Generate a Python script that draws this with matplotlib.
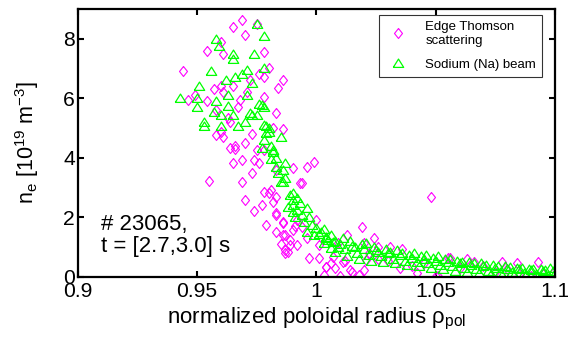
import matplotlib
matplotlib.use("Agg")
import matplotlib.pyplot as plt

plt.rcParams['font.family'] = ['Liberation Sans', 'DejaVu Sans']
plt.rcParams['mathtext.fontset'] = 'custom'
plt.rcParams['mathtext.rm'] = 'Liberation Sans'
plt.rcParams['mathtext.it'] = 'Liberation Sans'

# Edge Thomson scattering (rho_pol, n_e in 1e19 m^-3)
ts_rho = [0.969, 0.975, 0.965, 0.970, 0.978, 0.954, 0.960, 0.961, 0.944, 0.986,
          0.984, 0.980, 0.978, 0.960, 0.965, 0.961, 0.949, 0.946, 0.954, 0.978,
          0.958, 0.983, 0.968, 0.964, 0.960, 0.973, 0.986, 0.982, 0.966, 0.970,
          0.961, 0.972, 0.976, 0.971, 0.963, 0.967, 0.957, 0.958, 0.964,
          0.955, 0.970, 0.969, 0.974, 0.966, 0.965, 0.969, 0.973, 0.978, 0.983,
          0.986, 0.987, 0.989, 0.987, 0.982, 0.976, 0.983, 0.978, 0.981, 0.974,
          0.975, 0.980, 0.983, 0.983, 0.983, 0.986, 0.987, 0.988, 0.986, 0.990,
          0.989, 0.992, 0.992, 0.994, 0.993, 0.997, 1.001, 1.004, 1.006, 1.001,
          0.996, 0.999, 0.996, 0.994, 0.990, 1.000, 1.019, 1.024, 1.013, 1.031,
          1.036, 1.020, 1.022, 1.009, 1.026, 1.048, 1.004, 1.008, 1.015, 1.014,
          1.020, 1.007, 1.011, 1.021, 1.042, 1.051, 1.055, 1.056, 1.063, 1.066,
          1.078, 1.084, 1.093, 1.099, 1.003, 1.010, 1.018, 1.050, 1.090, 1.030,
          1.035, 1.040, 1.045, 1.060, 1.070, 1.075, 1.080, 1.085, 1.095, 1.026,
          1.012, 0.991, 0.985, 0.979, 0.977]
ts_ne = [8.64, 8.50, 8.40, 8.13, 7.56, 7.60, 7.90, 7.50, 6.90, 6.60,
         6.35, 7.00, 6.70, 6.40, 6.40, 6.20, 6.10, 5.95, 5.90, 6.05,
         5.60, 5.50, 5.95, 5.20, 4.85, 4.80, 4.95, 5.00, 4.40, 4.50,
         4.70, 6.60, 6.80, 6.20, 5.35, 5.70, 6.30, 4.77, 4.33,
         3.23, 2.59, 3.20, 2.20, 4.30, 3.83, 3.93, 3.50, 2.86, 2.15,
         1.80, 1.41, 1.07, 0.80, 2.50, 3.83, 3.60, 4.27, 2.92, 3.93,
         4.27, 2.82, 2.69, 2.08, 1.51, 1.41, 0.91, 0.84, 1.85, 1.58,
         1.24, 1.08, 1.92, 1.68, 3.16, 0.64, 0.64, 0.34, 0.47, 1.08,
         1.31, 3.87, 3.70, 3.16, 3.66, 1.92, 1.68, 1.31, 1.41, 1.01,
         0.94, 1.14, 0.80, 1.14, 1.01, 2.69, 0.34, 0.30, 0.17, 0.24,
         0.24, 0.67, 0.50, 0.57, 0.13, 0.02, 0.64, 0.64, 0.60, 0.50,
         0.50, 0.47, 0.50, 0.13, 0.05, 0.02, 0.05, 0.03, 0.02, 0.55,
         0.30, 0.35, 0.45, 0.30, 0.35, 0.15, 0.25, 0.10, 0.10, 0.60,
         0.55, 1.70, 1.10, 1.75, 2.40]

# Sodium (Na) beam
na_rho = [0.975, 0.978, 0.958, 0.959, 0.965, 0.965, 0.974, 0.956, 0.971, 0.978,
          0.962, 0.966, 0.969, 0.951, 0.973, 0.943, 0.950, 0.958, 0.963, 0.971,
          0.950, 0.963, 0.976, 0.957, 0.960, 0.965, 0.973, 0.978, 0.953, 0.970,
          0.979, 0.960, 0.953, 0.980, 0.985, 0.978, 0.972, 0.977, 0.978, 0.979,
          0.980, 0.975, 0.967, 0.977, 0.982, 0.983, 0.981, 0.982, 0.986, 0.984,
          0.987, 0.986, 0.989, 0.990, 0.990, 0.992, 0.988, 0.985, 0.990, 0.993,
          0.990, 0.994, 0.997, 0.998, 1.000, 0.996, 1.004, 1.003, 1.006, 1.009,
          1.007, 0.992, 0.991, 0.995, 0.999, 1.002, 0.996, 0.987, 0.983, 0.981,
          1.001, 1.003, 1.004, 1.006, 1.008, 1.011, 1.014, 1.016, 1.019, 1.021,
          1.024, 1.026, 1.029, 1.031, 1.034, 1.036, 1.039, 1.041, 1.044, 1.046,
          1.049, 1.051, 1.054, 1.056, 1.059, 1.061, 1.064, 1.066, 1.069, 1.071,
          1.074, 1.076, 1.079, 1.081, 1.084, 1.086, 1.089, 1.091, 1.094, 1.096,
          1.099, 1.005, 1.008, 1.010, 1.012, 1.013, 1.015, 1.017, 1.018, 1.020,
          1.022, 1.023, 1.025, 1.027, 1.028, 1.030, 1.032, 1.033, 1.035, 1.037,
          1.038, 1.040, 1.042, 1.043, 1.045, 1.047, 1.048, 1.050, 1.052, 1.053,
          1.055, 1.057, 1.058, 1.060, 1.062, 1.063, 1.065, 1.067, 1.068, 1.070,
          1.072, 1.073, 1.075, 1.077, 1.078, 1.080, 1.082, 1.083, 1.085, 1.087,
          1.088, 1.090, 1.092, 1.093, 1.095, 1.097, 1.098, 1.100]
na_ne = [8.50, 8.10, 8.00, 7.75, 7.50, 7.30, 7.50, 6.90, 6.95, 7.00,
         6.60, 6.70, 6.80, 6.40, 6.50, 6.00, 6.00, 5.90, 6.10, 6.10,
         5.70, 5.75, 5.80, 5.55, 5.45, 5.45, 5.45, 5.70, 5.20, 5.20,
         5.05, 5.05, 5.05, 4.85, 4.70, 4.60, 5.50, 5.78, 5.10, 4.84,
         5.00, 5.45, 5.05, 4.33, 4.20, 3.70, 3.95, 4.27, 3.60, 3.50,
         3.33, 3.20, 2.76, 2.59, 2.42, 2.25, 2.35, 3.20, 2.82, 2.49,
         2.18, 2.08, 2.02, 1.75, 1.65, 1.51, 1.34, 1.14, 0.97, 1.00,
         1.18, 2.66, 2.00, 1.85, 1.40, 1.50, 2.30, 3.83, 4.00, 4.40,
         1.45, 1.60, 1.30, 1.40, 1.20, 1.30, 1.20, 1.00, 1.10, 1.15,
         1.00, 0.85, 0.95, 0.85, 0.90, 0.80, 0.75, 0.80, 0.70, 0.75,
         0.65, 0.70, 0.60, 0.60, 0.55, 0.50, 0.50, 0.45, 0.45, 0.40,
         0.40, 0.35, 0.35, 0.32, 0.30, 0.30, 0.28, 0.26, 0.25, 0.22,
         0.20, 1.25, 0.85, 1.10, 0.95, 0.70, 1.05, 0.80, 0.60, 0.95,
         0.75, 0.55, 0.90, 0.70, 0.50, 0.80, 0.60, 0.45, 0.75, 0.55,
         0.40, 0.65, 0.50, 0.35, 0.60, 0.45, 0.30, 0.55, 0.40, 0.25,
         0.50, 0.35, 0.20, 0.45, 0.30, 0.15, 0.40, 0.25, 0.12, 0.35,
         0.20, 0.10, 0.30, 0.18, 0.08, 0.28, 0.15, 0.06, 0.25, 0.12,
         0.05, 0.22, 0.10, 0.04, 0.20, 0.08, 0.30, 0.12]

x_ticks = [0.9, 0.95, 1.0, 1.05, 1.1]
x_labels = ['0.9', '0.95', '1', '1.05', '1.1']
y_ticks = [0, 2, 4, 6, 8]

diamond = [(0, 1), (0.8, 0), (0, -1), (-0.8, 0), (0, 1)]
triangle = [(-1, -0.75), (1, -0.75), (0, 0.85), (-1, -0.75)]

fig = plt.figure(figsize=(5.68, 3.41), dpi=100)
ax = fig.add_axes([0.137, 0.188, 0.840, 0.786])

ax.plot(ts_rho, ts_ne, linestyle='none', marker=diamond, markersize=7.2,
        mfc='none', mec='#ff00ff', mew=0.8, label='Edge Thomson\nscattering')
ax.plot(na_rho, na_ne, linestyle='none', marker=triangle, markersize=7.5,
        mfc='none', mec='#00ff00', mew=0.9, label='Sodium (Na) beam')

ax.set_xlim(0.9, 1.1)
ax.set_ylim(0, 9)
ax.set_xticks(x_ticks)
ax.set_xticklabels(x_labels)
ax.set_yticks(y_ticks)
ax.tick_params(direction='in', length=4, width=1.5, top=True, right=True,
               labelsize=15.2)
ax.tick_params(axis='x', pad=4)
ax.tick_params(axis='y', pad=2)
for s in ax.spines.values():
    s.set_linewidth(1.6)

ax.set_xlabel(r'normalized poloidal radius $\mathrm{ρ}_{\mathrm{pol}}$', fontsize=16, labelpad=3)
ax.set_ylabel(r'n$_\mathrm{e}$ [10$^{19}$ m$^{-3}$]', fontsize=15.5, labelpad=16)

ax.text(0.9097, 1.38, '# 23065,\nt = [2.7,3.0] s', fontsize=16, va='center',
        ha='left', linespacing=1.05)

leg = ax.legend(loc='upper right', bbox_to_anchor=(0.973, 0.978), fontsize=9.5,
                frameon=True, fancybox=False, handlelength=2.1, handletextpad=1.0,
                borderpad=0.45, labelspacing=0.9, borderaxespad=0)
leg.get_frame().set_edgecolor('black')
leg.get_frame().set_linewidth(0.8)

fig.savefig('out.png', dpi=100)
